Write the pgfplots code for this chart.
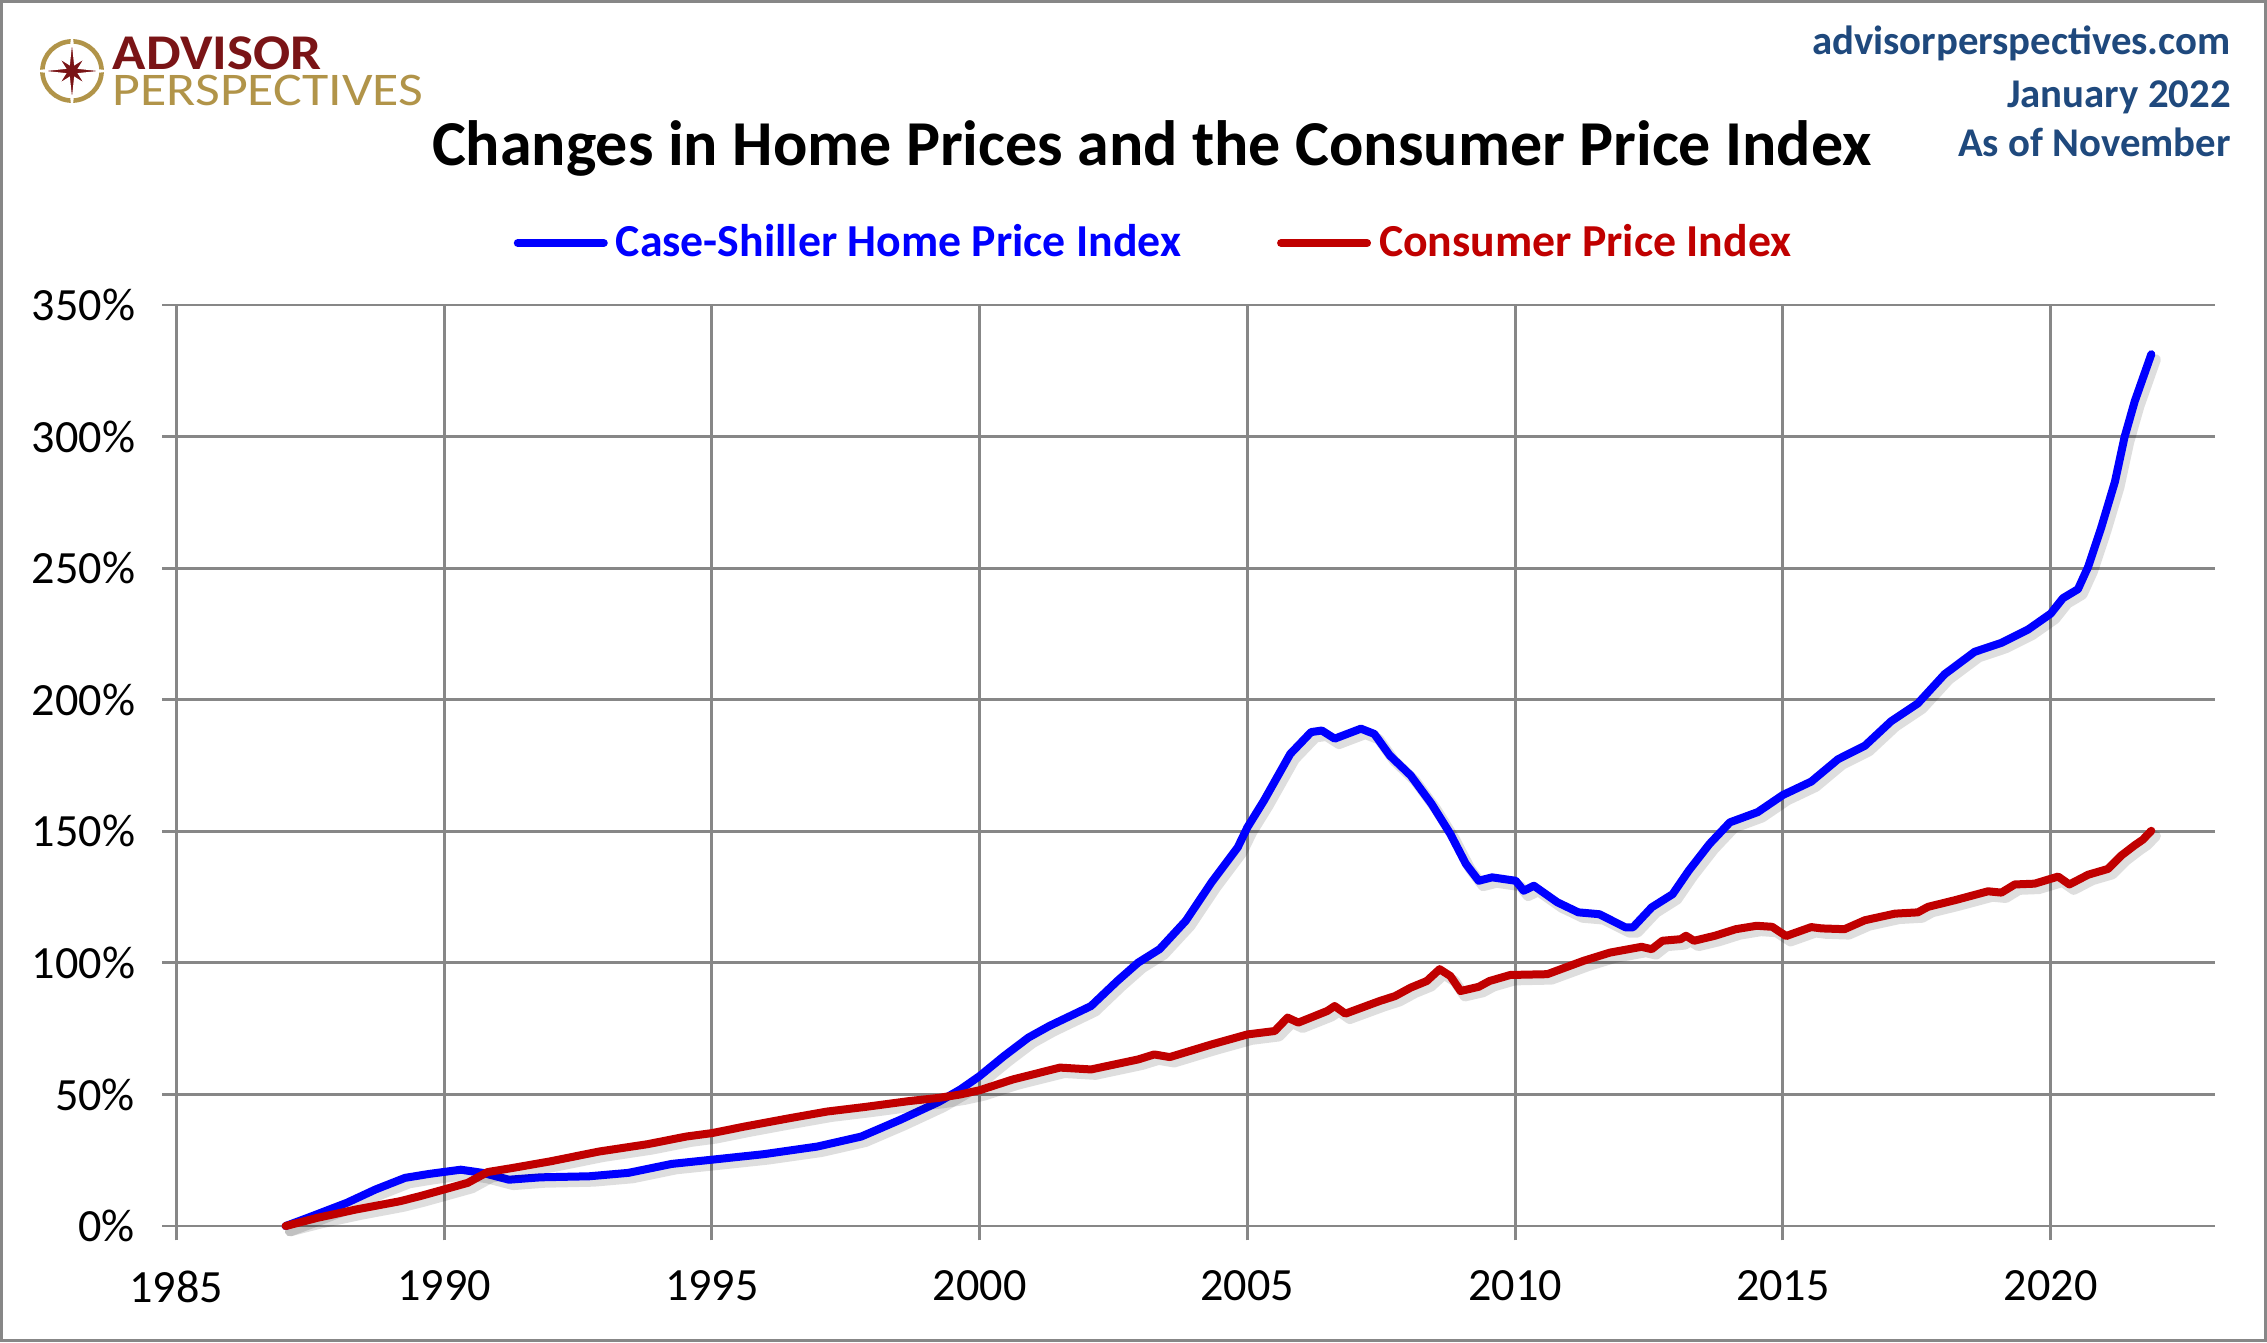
\documentclass[border=0pt]{standalone}
\usepackage{pgfplots}
\pgfplotsset{compat=1.18}
\usepackage{pgfplotstable}
\usepackage{graphicx}
\usepackage{fontspec}
\setmainfont{Carlito}
\definecolor{gridgray}{RGB}{135,135,135}
\definecolor{apblue}{RGB}{31,73,125}
\definecolor{cpired}{RGB}{192,0,0}
\definecolor{csblue}{RGB}{0,0,255}
\definecolor{logored}{RGB}{122,20,22}
\definecolor{logogold}{RGB}{177,148,73}

\pgfplotstableread{
year pct
1987.04 0
1987.45 3.1
1988.18 8.8
1988.72 13.9
1989.27 18.3
1989.72 19.8
1990.31 21.4
1990.72 20.2
1991.21 17.6
1991.8 18.5
1992.71 18.9
1993.44 20.2
1994.25 23.6
1995.0 25.2
1995.97 27.3
1996.97 30.2
1997.79 34.0
1998.51 40.3
1999.24 47.2
1999.64 51.9
2000.0 57.0
2000.45 64.5
2000.91 71.6
2001.3 76.0
2002.08 83.6
2002.57 93.1
2002.96 100.1
2003.36 105.2
2003.85 116.0
2004.33 130.6
2004.82 143.9
2005.0 151.5
2005.31 161.7
2005.8 179.4
2006.19 187.7
2006.39 188.3
2006.63 185.2
2007.12 189.0
2007.37 187.0
2007.66 178.8
2008.05 171.2
2008.44 160.4
2008.79 149.0
2009.08 137.6
2009.32 131.2
2009.57 132.5
2010.01 131.2
2010.16 127.4
2010.35 129.3
2010.79 123.0
2011.18 119.2
2011.57 118.5
2012.06 113.5
2012.2 113.5
2012.55 121.1
2012.94 126.1
2013.24 135.0
2013.63 145.2
2014.01 153.4
2014.53 157.3
2015.0 163.8
2015.53 168.9
2016.03 177.4
2016.53 182.5
2017.02 191.8
2017.52 198.6
2018.02 209.7
2018.58 218.2
2019.08 221.6
2019.58 226.7
2020.0 232.7
2020.23 238.6
2020.51 242.0
2020.7 250.5
2020.95 265.8
2021.2 282.8
2021.38 299.8
2021.57 313.4
2021.88 331.3
}\caseshiller

\pgfplotstableread{
year pct
1987.04 0
1987.63 3.1
1988.36 6.3
1989.17 9.4
1989.54 11.3
1990.0 13.9
1990.44 16.4
1990.81 20.5
1991.26 22.0
1991.99 24.6
1992.89 28.3
1993.8 31.1
1994.52 34.0
1995.0 35.3
1995.61 37.8
1996.43 40.9
1997.15 43.5
1997.88 45.3
1998.69 47.5
1999.24 48.7
1999.64 50.0
2000.0 51.6
2000.62 55.7
2001.5 60.2
2002.08 59.5
2002.96 63.3
2003.26 65.2
2003.55 64.2
2004.33 69.0
2005.0 72.8
2005.51 74.1
2005.75 79.2
2005.95 77.3
2006.49 81.7
2006.63 83.6
2006.83 80.7
2007.47 85.5
2007.76 87.4
2008.05 90.6
2008.35 93.1
2008.59 97.6
2008.79 95.0
2008.98 89.3
2009.32 90.9
2009.52 93.1
2009.91 95.4
2010.6 95.7
2011.28 100.8
2011.77 103.9
2012.36 106.1
2012.55 105.2
2012.75 108.4
2013.09 109.0
2013.19 110.3
2013.34 108.4
2013.73 110.3
2014.12 112.8
2014.51 114.1
2014.8 113.7
2015.06 110.2
2015.53 113.6
2015.72 113.1
2016.15 112.8
2016.53 116.2
2017.09 118.7
2017.52 119.2
2017.71 121.3
2018.21 123.8
2018.83 127.2
2019.08 126.7
2019.33 129.8
2019.7 130.1
2020.14 132.8
2020.35 129.8
2020.7 133.5
2021.07 135.7
2021.32 140.8
2021.57 144.7
2021.72 146.8
2021.88 150.2
}\cpi

\begin{document}
\begin{tikzpicture}
\useasboundingbox (-44.1pt,-29pt) rectangle (522.65pt,306.5pt);
\fill[white] (-44.1pt,-29pt) rectangle (522.65pt,306.5pt);
\draw[gridgray, line width=0.75pt] (-43.725pt,-28.625pt) rectangle (522.275pt,306.125pt);

% logo
\begin{scope}[shift={(-26.1pt,288.75pt)}]
\draw[logogold, line width=1.15pt] (0,0) circle (7.4pt);
\filldraw[logored, draw=white, line width=0.45pt]
 (0:8.6pt) -- (22.5:1.9pt) -- (45:4.9pt) -- (67.5:1.9pt) --
 (90:8.6pt) -- (112.5:1.9pt) -- (135:4.9pt) -- (157.5:1.9pt) --
 (180:8.6pt) -- (202.5:1.9pt) -- (225:4.9pt) -- (247.5:1.9pt) --
 (270:8.6pt) -- (292.5:1.9pt) -- (315:4.9pt) -- (337.5:1.9pt) -- cycle;
\end{scope}
\node[anchor=north west, inner sep=0pt, align=left, font=\fontsize{11.7}{9.05}\selectfont] at (-16.1pt,297.6pt)
 {{\color{logored}\bfseries\fontsize{12.5}{9.05}\selectfont\scalebox{1.1}[1]{ADVISOR}}\\
  {\color{logogold}\scalebox{1.15}[1]{PERSPECTIVES}}};

% title
\node[anchor=base, inner sep=0pt, font=\bfseries\fontsize{16}{19}\selectfont] at (243.9pt,265.25pt) {Changes in Home Prices and the Consumer Price Index};

% top right
\node[anchor=base east, inner sep=0pt, text=apblue, font=\bfseries\fontsize{10.2}{12}\selectfont] at (513.8pt,292.75pt) {advisorperspectives.com};
\node[anchor=base east, inner sep=0pt, text=apblue, font=\bfseries\fontsize{10.2}{12}\selectfont] at (513.8pt,279.75pt) {January 2022};
\node[anchor=base east, inner sep=0pt, text=apblue, font=\bfseries\fontsize{10.2}{12}\selectfont] at (513.8pt,267.25pt) {As of November};

\begin{axis}[
  at={(0pt,0pt)}, anchor=south west,
  width=509.65pt, height=230.25pt, scale only axis,
  xmin=1985, xmax=2023.07, ymin=0, ymax=350,
  axis lines=left, axis line style={-, gridgray, line width=0.7pt},
  xtick={1985,1990,...,2020}, ytick={0,50,...,350},
  grid=major, major grid style={gridgray, line width=0.7pt},
  tick align=outside, major tick length=3.6pt,
  tick style={gridgray, line width=0.7pt},
  /pgf/number format/assume math mode=true,
  x tick label style={/pgf/number format/1000 sep={}, anchor=north, inner sep=0pt, yshift=-7.4pt, font=\fontsize{11.55}{14}\selectfont},
  yticklabel={\pgfmathprintnumber{\tick}\%},
  y tick label style={anchor=east, inner sep=0pt, xshift=-6.55pt, font=\fontsize{11.55}{14}\selectfont},
  clip=false,
  legend columns=2,
  legend style={at={(0.1651,1.0673)}, anchor=west, draw=none, fill=none, inner sep=0pt,
    font=\bfseries\fontsize{11.45}{13}\selectfont,
    /tikz/every even column/.append style={column sep=22pt}},
  legend image code/.code={\draw[#1, line cap=round] (0pt,0pt) -- (21.5pt,0pt);},
]
\addplot[black, opacity=0.13, line width=2.6pt, line join=round, line cap=round, forget plot,
  transform canvas={xshift=1.1pt, yshift=-1.3pt}] table[x=year, y=pct] {\caseshiller};
\addplot[csblue, line width=2pt, line join=round, line cap=round] table[x=year, y=pct] {\caseshiller};
\addlegendentry[text=csblue]{Case-Shiller Home Price Index}
\addplot[black, opacity=0.13, line width=2.6pt, line join=round, line cap=round, forget plot,
  transform canvas={xshift=1.1pt, yshift=-1.3pt}] table[x=year, y=pct] {\cpi};
\addplot[cpired, line width=2pt, line join=round, line cap=round] table[x=year, y=pct] {\cpi};
\addlegendentry[text=cpired]{Consumer Price Index}
\end{axis}
\end{tikzpicture}
\end{document}
